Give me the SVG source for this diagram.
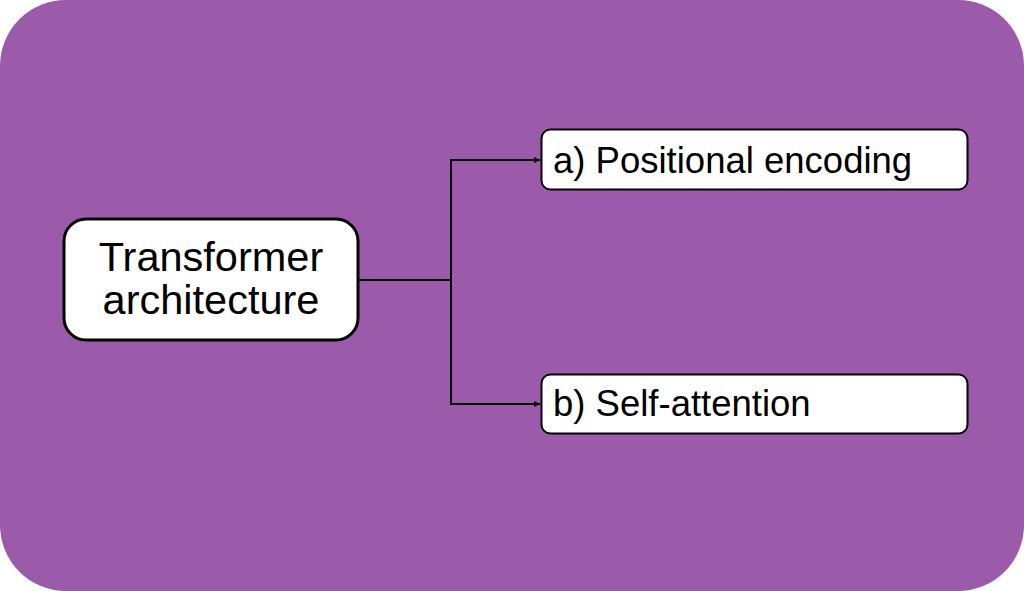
<svg xmlns="http://www.w3.org/2000/svg" width="1024" height="591" viewBox="0 0 1024 591">
<defs>
<style>
.node{fill:#ffffff;stroke:#000000;}
.lbl{font-family:"Liberation Sans",Arial,sans-serif;fill:#000000;}
.conn{fill:none;stroke:#000000;stroke-width:2;}
</style>
<marker id="arr" viewBox="0 0 10 10" refX="10" refY="5" markerWidth="6" markerHeight="6" orient="auto" markerUnits="userSpaceOnUse">
<path d="M0,0 L10,5 L0,10 z" fill="#000000"/>
</marker>
</defs>
<rect x="0" y="0" width="1024" height="591" rx="66" ry="66" fill="#9C5AAA"/>
<g id="connectors">
<path class="conn" d="M358,280 H451"/>
<path class="conn" d="M451,280 V160 H540" marker-end="url(#arr)"/>
<path class="conn" d="M451,280 V404 H540" marker-end="url(#arr)"/>
</g>
<g id="node-transformer">
<rect class="node" x="64" y="219" width="294" height="121" rx="22" stroke-width="3"/>
<text class="lbl" x="211" y="271" font-size="41.5" text-anchor="middle">Transformer</text>
<text class="lbl" x="211" y="314" font-size="41.5" text-anchor="middle">architecture</text>
</g>
<g id="node-a">
<rect class="node" x="541.5" y="129.5" width="426" height="60" rx="9" stroke-width="2"/>
<text class="lbl" x="553" y="173" font-size="36.5">a) Positional encoding</text>
</g>
<g id="node-b">
<rect class="node" x="541.5" y="374.5" width="426" height="59" rx="9" stroke-width="2"/>
<text class="lbl" x="553" y="416" font-size="36.5">b) Self-attention</text>
</g>
</svg>
